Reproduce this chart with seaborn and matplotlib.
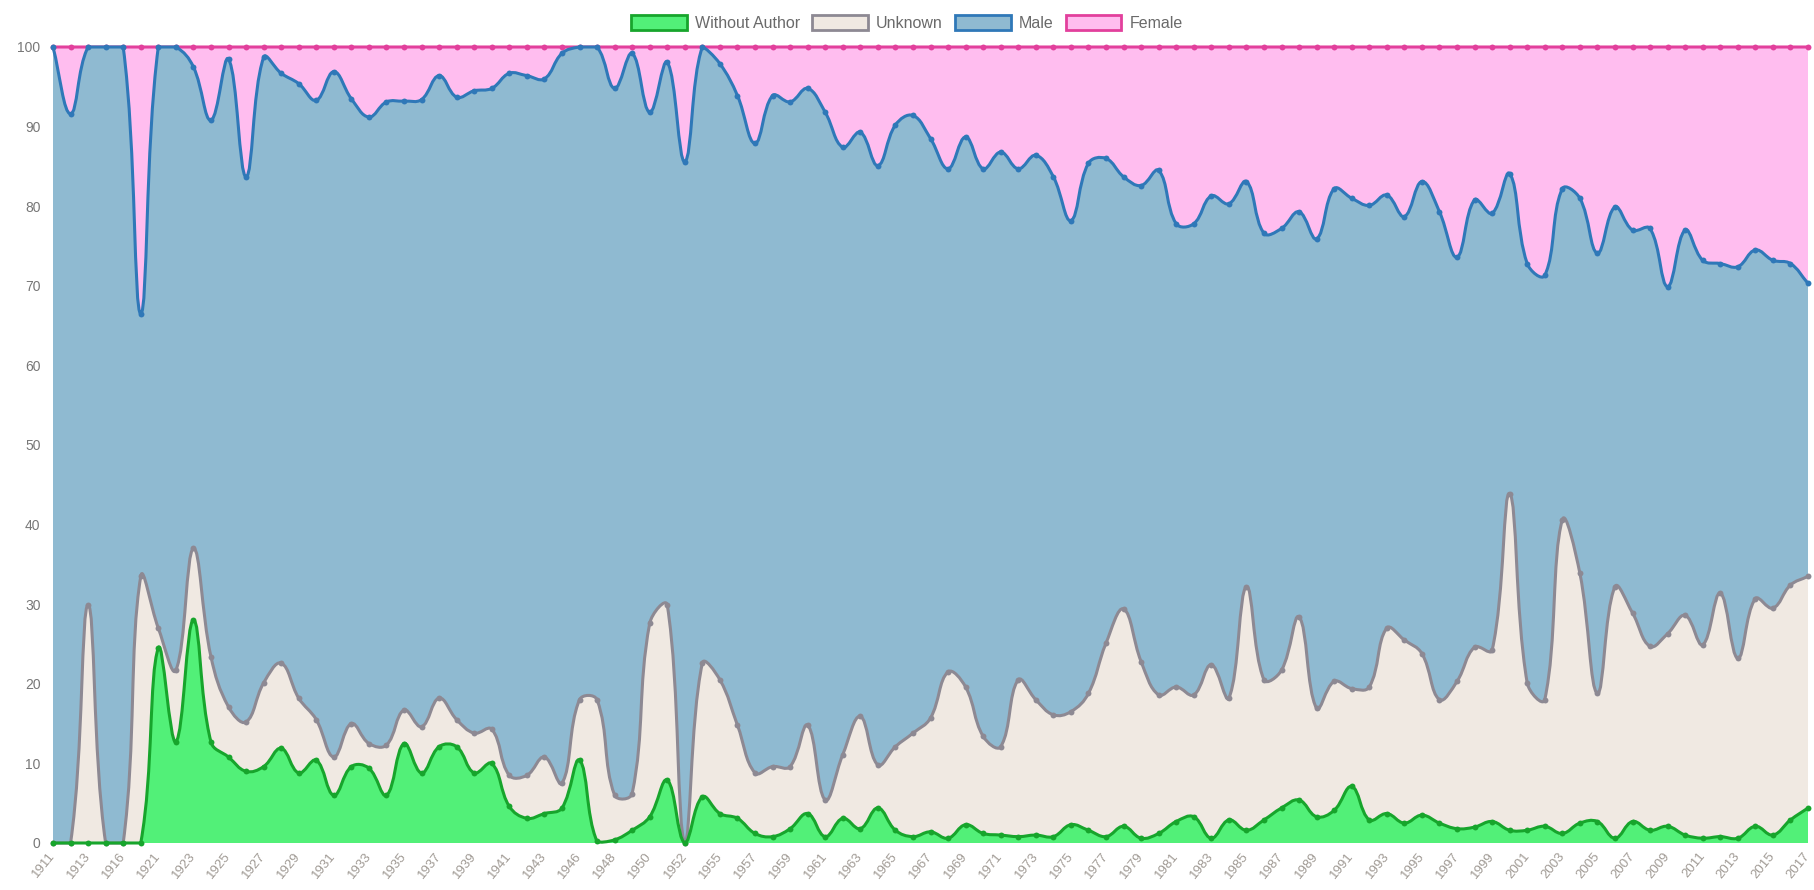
import numpy as np
import pandas as pd
import matplotlib
matplotlib.use("Agg")
import matplotlib.pyplot as plt
import seaborn as sns
from matplotlib.patches import Patch, PathPatch
from matplotlib.path import Path

# ---------------- data (percent of titles per year) ----------------
years = ([1911, 1912, 1913, 1914, 1916, 1919] + list(range(1921, 1944)) + [1945]
         + list(range(1946, 1953)) + [1954] + list(range(1955, 2018)))

without_author = [0, 0, 0, 0, 0, 0, 24.5, 12.7, 28.0, 12.7, 10.8, 9.0, 9.6, 11.9, 8.8, 10.4,
                  6.0, 9.6, 9.4, 6.0, 12.5, 8.8, 12.1, 12.1, 8.8, 10.0, 4.6, 3.1, 3.7, 4.4,
                  10.4, 0.2, 0.4, 1.6, 3.3, 7.9, 0, 5.8, 3.7, 3.1, 1.2, 0.8, 1.8, 3.7, 0.8,
                  3.1, 1.8, 4.4, 1.6, 0.8, 1.4, 0.6, 2.3, 1.2, 1.0, 0.8, 1.0, 0.8, 2.3, 1.6,
                  0.8, 2.1, 0.6, 1.2, 2.7, 3.3, 0.6, 2.9, 1.6, 2.9, 4.4, 5.4, 3.3, 4.1, 7.1,
                  2.9, 3.7, 2.5, 3.5, 2.5, 1.8, 2.0, 2.7, 1.6, 1.6, 2.1, 1.2, 2.5, 2.7, 0.6,
                  2.7, 1.6, 2.1, 1.0, 0.6, 0.8, 0.6, 2.1, 1.0, 2.9, 4.4]

unknown = [0, 0, 29.9, 0, 0, 33.5, 2.5, 9.0, 9.0, 10.7, 6.3, 6.2, 10.5, 10.7, 9.4, 5.1,
           4.8, 5.4, 3.1, 6.3, 4.2, 5.8, 6.1, 3.4, 5.0, 4.3, 3.9, 5.4, 7.1, 3.1,
           7.6, 17.8, 5.6, 4.6, 24.3, 22.0, 0, 16.8, 16.8, 11.7, 7.6, 8.8, 7.8, 11.1, 4.6,
           8.0, 14.1, 5.4, 10.5, 13.0, 14.3, 20.9, 17.3, 12.2, 11.1, 19.7, 17.0, 15.3, 14.2, 17.2,
           24.3, 27.3, 22.2, 17.4, 16.9, 15.3, 21.8, 15.3, 30.6, 17.6, 17.3, 23.0, 13.6, 16.2, 12.3,
           16.7, 23.3, 23.0, 20.3, 15.5, 18.5, 22.6, 21.5, 42.3, 18.5, 15.9, 39.4, 31.4, 16.1, 31.6,
           26.2, 23.1, 24.2, 27.6, 24.3, 30.6, 22.6, 28.6, 28.5, 29.5, 29.1]

male = [100, 91.6, 70.1, 100, 100, 33.0, 73.0, 78.3, 60.5, 67.4, 81.4, 68.5, 78.6, 74.1, 77.2, 77.8,
        86.1, 78.5, 78.7, 80.8, 76.5, 78.8, 78.2, 78.2, 80.7, 80.5, 88.2, 87.9, 85.2, 91.7,
        82.0, 82.0, 88.8, 93.0, 64.2, 68.2, 85.6, 77.4, 77.4, 79.1, 79.1, 84.3, 83.5, 80.0, 86.4,
        76.3, 73.4, 75.3, 78.1, 77.6, 72.8, 63.2, 69.1, 71.3, 74.7, 64.2, 68.4, 67.6, 61.7, 66.6,
        60.9, 54.3, 59.8, 65.9, 58.2, 59.2, 58.9, 62.1, 50.9, 56.1, 55.5, 50.9, 59.0, 61.9, 61.6,
        60.5, 54.4, 53.2, 59.3, 61.3, 53.3, 56.2, 54.9, 40.2, 52.7, 53.3, 41.6, 47.1, 55.3, 47.7,
        48.1, 52.5, 43.6, 48.4, 48.3, 41.4, 49.2, 43.8, 43.7, 40.4, 36.8]

female = [0, 8.4, 0, 0, 0, 33.5, 0, 0, 2.5, 9.2, 1.5, 16.3, 1.3, 3.3, 4.6, 6.7,
          3.1, 6.5, 8.8, 6.9, 6.8, 6.6, 3.6, 6.3, 5.5, 5.2, 3.3, 3.6, 4.0, 0.8,
          0, 0, 5.2, 0.8, 8.2, 1.9, 14.4, 0, 2.1, 6.1, 12.1, 6.1, 6.9, 5.2, 8.2,
          12.6, 10.7, 14.9, 9.8, 8.6, 11.5, 15.3, 11.3, 15.3, 13.2, 15.3, 13.6, 16.3, 21.8, 14.6,
          14.0, 16.3, 17.4, 15.5, 22.2, 22.2, 18.7, 19.7, 16.9, 23.4, 22.8, 20.7, 24.1, 17.8, 19.0,
          19.9, 18.6, 21.3, 16.9, 20.7, 26.4, 19.2, 20.9, 15.9, 27.2, 28.7, 17.8, 19.0, 25.9, 20.1,
          23.0, 22.8, 30.1, 23.0, 26.8, 27.2, 27.6, 25.5, 26.8, 27.2, 29.7]

series_names = ["Without Author", "Unknown", "Male", "Female"]
fill_colors = ["#52f078", "#f0e9e2", "#8fbad1", "#ffbdef"]
line_colors = ["#17a52c", "#8d8993", "#2f78b8", "#e2409c"]

# ---------------- stacked frame ----------------
df = pd.DataFrame({"year": years,
                   "Without Author": without_author,
                   "Unknown": unknown,
                   "Male": male,
                   "Female": female})
df["pos"] = np.arange(len(df))
cum = df[series_names].cumsum(axis=1)

sns.set_theme(style="white")
plt.rcParams["font.family"] = ["Liberation Sans", "DejaVu Sans"]

W, H = 1814, 890
L, R, T, B = 53, 1808, 47, 843
fig = plt.figure(figsize=(W / 100, H / 100), dpi=100)
ax = fig.add_axes([L / W, 1 - B / H, (R - L) / W, (B - T) / H])
n = len(df)
ax.set_xlim(0, n - 1)
ax.set_ylim(0, 100)

# pixel size of one data unit (for Chart.js-like curve tension)
sx = (R - L) / (n - 1)
sy = (B - T) / 100.0


def smooth_path(xv, yv, tension=0.4, close_to_base=False):
    """Bezier path through the data points, control points as in Chart.js."""
    xv = np.asarray(xv, float)
    yv = np.asarray(yv, float)
    px, py = xv * sx, yv * sy
    m = len(xv)
    cp_prev = np.zeros((m, 2))
    cp_next = np.zeros((m, 2))
    for i in range(m):
        i0, i2 = max(i - 1, 0), min(i + 1, m - 1)
        d01 = np.hypot(px[i] - px[i0], py[i] - py[i0])
        d12 = np.hypot(px[i2] - px[i], py[i2] - py[i])
        tot = d01 + d12
        fa = tension * (d01 / tot if tot else 0.0)
        fb = tension * (d12 / tot if tot else 0.0)
        dx, dy = px[i2] - px[i0], py[i2] - py[i0]
        cp_prev[i] = (px[i] - fa * dx, py[i] - fa * dy)
        cp_next[i] = (px[i] + fb * dx, py[i] + fb * dy)
    for arr in (cp_prev, cp_next):
        arr[:, 0] = np.clip(arr[:, 0] / sx, xv[0], xv[-1])
        arr[:, 1] = np.clip(arr[:, 1] / sy, 0, 100)
    verts = [(xv[0], yv[0])]
    codes = [Path.MOVETO]
    for i in range(m - 1):
        verts += [tuple(cp_next[i]), tuple(cp_prev[i + 1]), (xv[i + 1], yv[i + 1])]
        codes += [Path.CURVE4] * 3
    if close_to_base:
        verts += [(xv[-1], 0), (xv[0], 0), (xv[0], yv[0])]
        codes += [Path.LINETO, Path.LINETO, Path.CLOSEPOLY]
    return Path(verts, codes)


# draw datasets last-to-first, each filled to the origin, like Chart.js
for k, (name, fc, lc) in enumerate(zip(series_names[::-1], fill_colors[::-1], line_colors[::-1])):
    yv = cum[name].to_numpy()
    ax.add_patch(PathPatch(smooth_path(df["pos"], yv, close_to_base=True),
                           facecolor=fc, edgecolor="none", lw=0, zorder=1 + 3 * k))
    ax.add_patch(PathPatch(smooth_path(df["pos"], yv), facecolor="none", edgecolor=lc,
                           lw=2.2, zorder=2 + 3 * k, clip_on=False, capstyle="round",
                           joinstyle="round"))
    sns.scatterplot(x=df["pos"], y=yv, ax=ax, color=lc, s=18, linewidth=0,
                    zorder=3 + 3 * k, clip_on=False, legend=False)

ax.set_xlabel("")
ax.set_ylabel("")
ax.set_yticks(np.arange(0, 101, 10))
ax.set_yticklabels([str(v) for v in range(0, 101, 10)], fontsize=10, color="#777777")
ax.set_xticks(df["pos"][::2])
ax.set_xticklabels([str(y) for y in df["year"][::2]], rotation=51, ha="right", va="center",
                   rotation_mode="anchor", fontsize=9.5, color="#a09a94")
ax.tick_params(axis="y", length=0, pad=9)
ax.tick_params(axis="x", length=0, pad=8)
for s in ax.spines.values():
    s.set_visible(False)
ax.grid(False)

handles = [Patch(facecolor=fc, edgecolor=lc, linewidth=2)
           for fc, lc in zip(fill_colors, line_colors)]
fig.legend(handles, series_names, loc="center", bbox_to_anchor=(0.5, 1 - 23 / H),
           ncol=4, frameon=False, handlelength=3.5, handleheight=1.1,
           handletextpad=0.5, columnspacing=0.75, fontsize=11.5, labelcolor="#6a6a6a")

fig.savefig("out.png", dpi=100)
